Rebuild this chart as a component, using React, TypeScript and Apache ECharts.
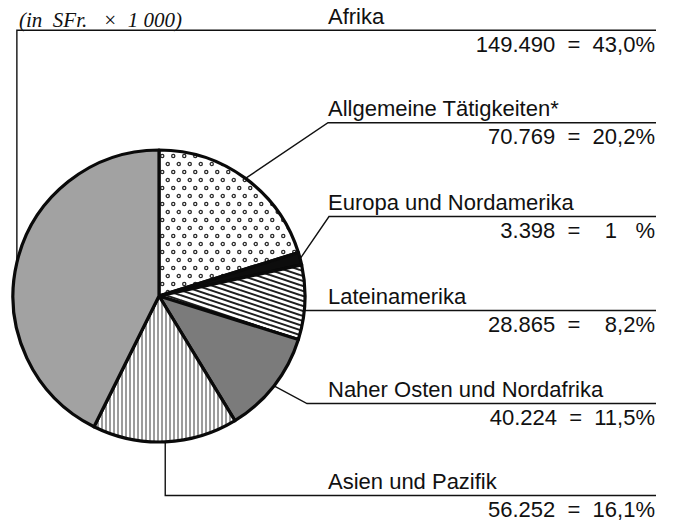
import React, { useEffect, useRef } from 'react';
import * as echarts from 'echarts';

// ---- data (clockwise from 12 o'clock) ----
const categories = [
  'Allgemeine Tätigkeiten*',
  'Europa und Nordamerika',
  'Lateinamerika',
  'Naher Osten und Nordafrika',
  'Asien und Pazifik',
  'Afrika',
];
const amounts = [70769, 3398, 28865, 40224, 56252, 149490];
const amountLabels = ['70.769', '3.398', '28.865', '40.224', '56.252', '149.490'];
const percentages = [20.2, 1, 8.2, 11.5, 16.1, 43.0];
const unitNote = '(in\u00a0 SFr.\u00a0\u00a0 ×\u00a0 1 000)';

// ---- layout ----
const W = 674;
const H = 522;
const CX = 159;
const CY = 296;
const R = 146;
const LABEL_X = 328;
const LINE_END = 656;
const ROW_Y = [122.7, 216.5, 310.5, 403.5, 495.5, 30.3];
const ROW_KIND = ['diag', 'diag', 'flat', 'diag', 'vert', 'vert'];
const ELBOW_X = [328, 329, 0, 307, 0, 0];

const NB = '\u00a0';
function pctText(p: number): string {
  if (p < 2) {
    // printed without decimals in the source, aligned on the digit column
    return `${NB}${NB}${Math.round(p)}${NB}${NB}${NB}%`;
  }
  const s = p.toFixed(1).replace('.', ',') + '%';
  return p < 10 ? `${NB}${NB}${s}` : s;
}
function valueText(i: number): string {
  return `${amountLabels[i]}${NB} =${NB} ${pctText(percentages[i])}`;
}

function svgTile(w: number, h: number, body: string) {
  return (
    'data:image/svg+xml;charset=utf-8,' +
    encodeURIComponent(
      `<svg xmlns="http://www.w3.org/2000/svg" width="${w}" height="${h}"><rect width="${w}" height="${h}" fill="#ffffff"/>${body}</svg>`
    )
  );
}

const dotsPattern = {
  image: svgTile(
    11,
    16,
    `<circle cx="2.75" cy="4" r="1.6" fill="#ffffff" stroke="#2a2a2a" stroke-width="1.3"/><circle cx="8.25" cy="12" r="1.6" fill="#ffffff" stroke="#2a2a2a" stroke-width="1.3"/>`
  ),
  imageWidth: 11,
  imageHeight: 16,
  repeat: 'repeat',
};
const hatchLines = [-10, -5, 0, 5, 10]
  .map((k) => `<line x1="0" y1="${k}" x2="30" y2="${k + 10}" stroke="#1e1e1e" stroke-width="1.9"/>`)
  .join('');
const hatchPattern = {
  image: svgTile(30, 10, hatchLines),
  imageWidth: 30,
  imageHeight: 10,
  repeat: 'repeat',
};
const verticalPattern = {
  image: svgTile(4, 4, `<line x1="2" y1="0" x2="2" y2="4" stroke="#3a3a3a" stroke-width="1"/>`),
  imageWidth: 4,
  imageHeight: 4,
  repeat: 'repeat',
};

const sliceFills: any[] = [dotsPattern, '#0d0d0d', hatchPattern, '#7b7b7b', verticalPattern, '#a2a2a2'];

const FONT = '"Liberation Sans", Arial, Helvetica, sans-serif';

export default function App() {
  const ref = useRef<HTMLDivElement>(null);

  useEffect(() => {
    document.body.style.margin = '0';
    if (!ref.current) return;
    const chart = echarts.init(ref.current, null, { renderer: 'svg' });

    const data = categories.map((name, i) => ({
      name,
      value: amounts[i],
      itemStyle: { color: sliceFills[i] },
    }));

    chart.setOption({
      animation: false,
      backgroundColor: '#ffffff',
      title: {
        text: unitNote,
        left: 14,
        top: 4,
        textStyle: {
          fontFamily: '"Liberation Serif", "Times New Roman", serif',
          fontStyle: 'italic',
          fontWeight: 'normal',
          fontSize: 21,
          color: '#111',
        },
      },
      series: [
        {
          type: 'pie',
          center: [CX, CY],
          radius: R,
          startAngle: 90,
          clockwise: true,
          minAngle: 5,
          avoidLabelOverlap: false,
          data,
          itemStyle: { borderColor: '#0a0a0a', borderWidth: 3.2 },
          emphasis: { disabled: true },
          label: {
            show: true,
            position: 'outside',
            width: LINE_END - 1 - LABEL_X,
            overflow: 'none',
            formatter: (p: any) => `{n|${p.name}}\n{v|${valueText(p.dataIndex)}}`,
            rich: {
              n: { fontFamily: FONT, fontSize: 22, color: '#111', lineHeight: 28, align: 'left' },
              v: { fontFamily: FONT, fontSize: 22, color: '#111', lineHeight: 28, align: 'right' },
            },
          },
          labelLine: {
            show: true,
            length: 10,
            length2: 10,
            lineStyle: { color: '#111', width: 1.4 },
          },
          labelLayout: (params: any) => {
            const i = params.dataIndex;
            const y = ROW_Y[i];
            const pts = params.labelLinePoints;
            const start: number[] = pts && pts[0] ? pts[0] : [CX, CY - R];
            let line: number[][];
            const kind = ROW_KIND[i];
            if (kind === 'flat') {
              const dy = y - CY;
              const ex = CX + Math.sqrt(Math.max(0, R * R - dy * dy));
              line = [[ex, y], [LINE_END, y]];
            } else if (kind === 'vert') {
              line = [start, [start[0], y], [LINE_END, y]];
            } else {
              line = [start, [ELBOW_X[i], y], [LINE_END, y]];
            }
            return {
              x: LABEL_X,
              y,
              align: 'left',
              verticalAlign: 'middle',
              labelLinePoints: line,
            };
          },
        },
      ],
    });

    return () => chart.dispose();
  }, []);

  return <div ref={ref} style={{ width: W, height: H }} />;
}
